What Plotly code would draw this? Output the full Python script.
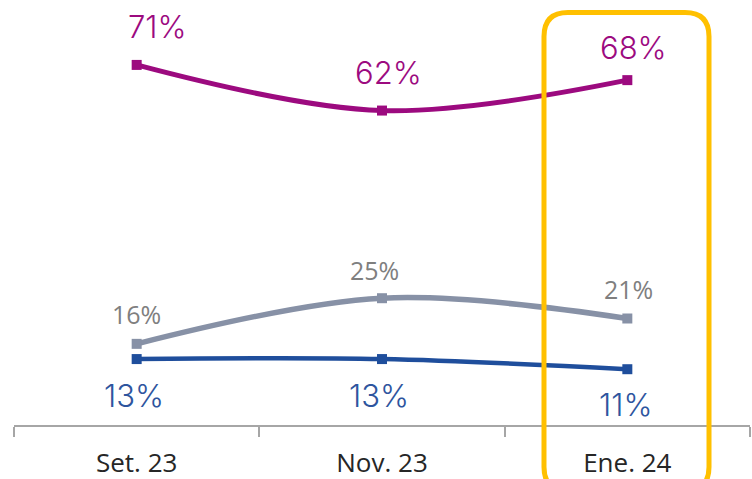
import plotly.graph_objects as go

categories = ["Set. 23", "Nov. 23", "Ene. 24"]
serie_magenta = [71, 62, 68]
serie_gris = [16, 25, 21]
serie_azul = [13, 13, 11]

labels_magenta = ["71%", "62%", "68%"]
labels_gris = ["16%", "25%", "21%"]
labels_azul = ["13%", "13%", "11%"]

C_MAG = "#9C0A7F"
C_GRIS_LINE = "#8791A6"
C_GRIS_TXT = "#7F7F7F"
C_AZUL = "#1F4E9C"
C_AZUL_TXT = "#2E559E"

fig = go.Figure()

def add_series(vals, color, width):
    fig.add_trace(go.Scatter(
        x=categories, y=vals, mode="lines+markers",
        line=dict(color=color, width=width, shape="spline", smoothing=1),
        marker=dict(symbol="square", size=10, color=color),
        hoverinfo="skip", showlegend=False,
    ))

add_series(serie_gris, C_GRIS_LINE, 5.5)
add_series(serie_azul, C_AZUL, 4.5)
add_series(serie_magenta, C_MAG, 5)

thin = dict(family="Inter", weight=300)
mag_shift = [(21, 38), (6, 38), (6, 33)]
gris_shift = [(0, 30), (-8, 28), (1, 30)]
azul_shift = [(-3, -36), (-3, -36), (-2, -35)]

for c, v, t, (dx, dy) in zip(categories, serie_magenta, labels_magenta, mag_shift):
    fig.add_annotation(x=c, y=v, text=t, showarrow=False, xshift=dx, yshift=dy,
                       font=dict(size=31, color=C_MAG, **thin))
for c, v, t, (dx, dy) in zip(categories, serie_gris, labels_gris, gris_shift):
    fig.add_annotation(x=c, y=v, text=t, showarrow=False, xshift=dx, yshift=dy,
                       font=dict(size=25, color=C_GRIS_TXT, family="Open Sans"))
for c, v, t, (dx, dy) in zip(categories, serie_azul, labels_azul, azul_shift):
    fig.add_annotation(x=c, y=v, text=t, showarrow=False, xshift=dx, yshift=dy,
                       font=dict(size=31, color=C_AZUL_TXT, **thin))

# highlight rounded box around last category (paper coords)
x0, x1 = 0.7201, 0.9443
y0, y1 = -0.1553, 0.9706
rx, ry = 0.0326, 0.0565
path = (f"M {x0+rx},{y1} L {x1-rx},{y1} Q {x1},{y1} {x1},{y1-ry} "
        f"L {x1},{y0+ry} Q {x1},{y0} {x1-rx},{y0} "
        f"L {x0+rx},{y0} Q {x0},{y0} {x0},{y0+ry} "
        f"L {x0},{y1-ry} Q {x0},{y1} {x0+rx},{y1} Z")
fig.add_shape(type="path", path=path, xref="paper", yref="paper",
              line=dict(color="#FFC000", width=5), layer="above")

fig.update_layout(
    width=752, height=479,
    margin=dict(l=14, r=2, t=0, b=54),
    paper_bgcolor="white", plot_bgcolor="white",
    xaxis=dict(type="category", range=[-0.5, 2.5], tickson="boundaries",
               showline=True, linecolor="#A6A6A6", linewidth=2,
               ticks="outside", ticklen=10, tickwidth=2, tickcolor="#A6A6A6",
               ticklabelstandoff=14,
               showgrid=False, zeroline=False, fixedrange=True,
               tickfont=dict(family="Open Sans", size=26, color="#262626")),
    yaxis=dict(range=[0, 83.8], visible=False, showgrid=False, zeroline=False,
               fixedrange=True),
)

fig.write_html("out.html", config={"displayModeBar": False, "staticPlot": True},
               post_script="document.body.style.margin='0';document.body.style.overflow='hidden';")
